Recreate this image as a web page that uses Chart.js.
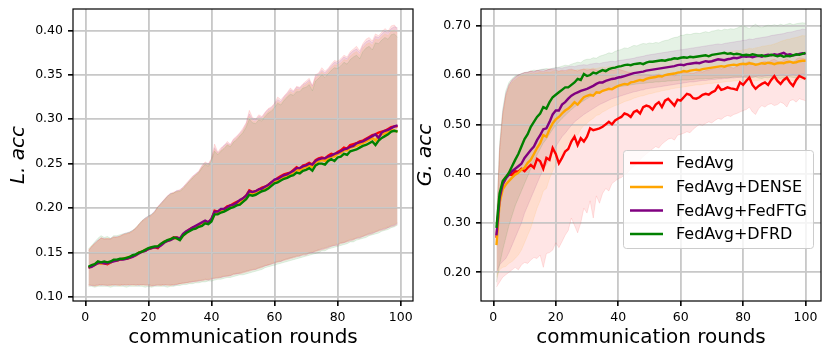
<!DOCTYPE html>
<html><head><meta charset="utf-8">
<script src="https://cdn.jsdelivr.net/npm/chart.js@4/dist/chart.umd.min.js"></script>
<style>
html,body{margin:0;padding:0;background:#fff;}
#w{position:relative;width:831px;height:358px;overflow:hidden;background:#fff;}
.c{position:absolute;top:0;height:358px;}
</style></head><body>
<div id="w">
<div class="c" style="left:0;width:416px"><canvas id="cL"></canvas></div>
<div class="c" style="left:410px;width:421px"><canvas id="cR"></canvas></div>
</div>
<script>
const rounds = [1,2,3,4,5,6,7,8,9,10,11,12,13,14,15,16,17,18,19,20,21,22,23,24,25,26,27,28,29,30,
31,32,33,34,35,36,37,38,39,40,41,42,43,44,45,46,47,48,49,50,51,52,53,54,55,56,57,58,59,60,
61,62,63,64,65,66,67,68,69,70,71,72,73,74,75,76,77,78,79,80,81,82,83,84,85,86,87,88,89,90,
91,92,93,94,95,96,97,98,99,100];
const seriesNames = ['FedAvg','FedAvg+DENSE','FedAvg+FedFTG','FedAvg+DFRD'];
const xTicks = [0,20,40,60,80,100];
const yTicksL = [0.10,0.15,0.20,0.25,0.30,0.35,0.40];
const yTicksR = [0.20,0.30,0.40,0.50,0.60,0.70];
const xTitle = 'communication rounds';
const yTitleL = 'L. acc';
const yTitleR = 'G. acc';

// ---------- Left panel (L. acc), rounds 1..99 ----------
const lFedAvg = [0.133,0.135,0.136,0.139,0.138,0.138,0.137,0.139,0.141,0.141,
0.142,0.143,0.143,0.144,0.146,0.147,0.150,0.151,0.152,0.154,
0.155,0.156,0.155,0.159,0.162,0.163,0.165,0.167,0.167,0.165,
0.170,0.173,0.176,0.178,0.179,0.181,0.182,0.185,0.184,0.187,
0.197,0.196,0.198,0.199,0.202,0.203,0.205,0.207,0.208,0.211,
0.214,0.220,0.218,0.219,0.221,0.223,0.224,0.226,0.229,0.231,
0.234,0.236,0.238,0.239,0.240,0.243,0.246,0.244,0.248,0.249,
0.251,0.249,0.254,0.256,0.257,0.256,0.259,0.261,0.260,0.263,
0.265,0.268,0.267,0.271,0.272,0.273,0.275,0.276,0.278,0.280,
0.282,0.283,0.285,0.286,0.287,0.289,0.291,0.292,0.292];
const lDense = [0.133,0.135,0.137,0.138,0.138,0.139,0.138,0.139,0.141,0.141,
0.142,0.143,0.144,0.145,0.146,0.147,0.150,0.151,0.153,0.154,
0.156,0.156,0.157,0.159,0.162,0.163,0.165,0.166,0.166,0.165,
0.169,0.172,0.175,0.177,0.178,0.180,0.181,0.184,0.183,0.186,
0.194,0.194,0.196,0.197,0.200,0.201,0.203,0.205,0.206,0.209,
0.212,0.217,0.216,0.217,0.219,0.221,0.222,0.224,0.227,0.229,
0.231,0.233,0.235,0.236,0.238,0.240,0.243,0.242,0.245,0.246,
0.248,0.246,0.251,0.253,0.254,0.253,0.256,0.258,0.258,0.261,
0.262,0.265,0.265,0.268,0.269,0.270,0.272,0.273,0.275,0.277,
0.279,0.276,0.281,0.283,0.284,0.286,0.288,0.287,0.286];
const lFedFTG = [0.133,0.134,0.136,0.138,0.139,0.138,0.138,0.139,0.140,0.141,
0.142,0.142,0.143,0.144,0.145,0.147,0.149,0.151,0.152,0.154,
0.155,0.156,0.156,0.158,0.161,0.163,0.164,0.166,0.167,0.166,
0.171,0.174,0.176,0.178,0.180,0.182,0.184,0.186,0.184,0.188,
0.196,0.196,0.199,0.199,0.201,0.203,0.204,0.206,0.209,0.211,
0.214,0.219,0.218,0.219,0.221,0.222,0.224,0.226,0.229,0.232,
0.233,0.235,0.237,0.238,0.240,0.242,0.245,0.245,0.247,0.248,
0.250,0.249,0.253,0.255,0.256,0.256,0.258,0.259,0.261,0.262,
0.264,0.266,0.267,0.269,0.270,0.273,0.274,0.275,0.277,0.279,
0.281,0.283,0.279,0.285,0.287,0.288,0.290,0.292,0.293];
const lDFRD = [0.134,0.136,0.137,0.140,0.139,0.140,0.139,0.140,0.142,0.142,
0.143,0.143,0.144,0.145,0.147,0.148,0.150,0.151,0.153,0.155,
0.156,0.157,0.157,0.160,0.162,0.164,0.165,0.167,0.166,0.164,
0.169,0.172,0.174,0.176,0.177,0.179,0.180,0.183,0.182,0.185,
0.193,0.193,0.195,0.196,0.198,0.200,0.201,0.203,0.204,0.207,
0.210,0.215,0.214,0.215,0.217,0.219,0.220,0.222,0.225,0.228,
0.229,0.231,0.233,0.234,0.236,0.237,0.240,0.239,0.242,0.243,
0.245,0.242,0.248,0.250,0.250,0.249,0.253,0.255,0.253,0.257,
0.258,0.261,0.260,0.264,0.265,0.266,0.268,0.270,0.271,0.273,
0.275,0.271,0.276,0.279,0.281,0.283,0.286,0.287,0.286];

const lFedAvgHi = [0.153,0.157,0.160,0.163,0.167,0.165,0.166,0.165,0.168,0.167,
0.169,0.170,0.171,0.172,0.174,0.178,0.182,0.186,0.188,0.190,
0.192,0.196,0.202,0.205,0.210,0.214,0.216,0.218,0.219,0.221,
0.223,0.228,0.232,0.236,0.238,0.242,0.248,0.252,0.250,0.256,
0.272,0.263,0.268,0.270,0.275,0.272,0.278,0.281,0.285,0.290,
0.296,0.310,0.302,0.300,0.305,0.303,0.308,0.312,0.314,0.318,
0.325,0.322,0.326,0.330,0.335,0.332,0.337,0.336,0.340,0.343,
0.346,0.338,0.350,0.352,0.358,0.354,0.357,0.362,0.366,0.365,
0.368,0.372,0.370,0.376,0.379,0.382,0.377,0.385,0.390,0.392,
0.388,0.396,0.394,0.398,0.402,0.399,0.405,0.406,0.401];
const lFedAvgLo = [0.113,0.113,0.112,0.113,0.114,0.113,0.113,0.113,0.114,0.113,
0.113,0.114,0.113,0.114,0.114,0.113,0.114,0.114,0.113,0.113,
0.112,0.113,0.113,0.113,0.114,0.113,0.113,0.114,0.114,0.115,
0.115,0.116,0.116,0.117,0.117,0.118,0.118,0.119,0.119,0.120,
0.121,0.121,0.122,0.123,0.123,0.124,0.125,0.126,0.126,0.127,
0.128,0.129,0.130,0.131,0.132,0.133,0.135,0.136,0.137,0.138,
0.139,0.140,0.141,0.142,0.143,0.144,0.145,0.146,0.147,0.147,
0.149,0.150,0.151,0.152,0.153,0.154,0.155,0.157,0.158,0.158,
0.160,0.161,0.162,0.163,0.164,0.166,0.166,0.168,0.169,0.170,
0.171,0.173,0.174,0.175,0.176,0.178,0.179,0.180,0.182];
const lDenseHi = [0.152,0.157,0.160,0.163,0.166,0.165,0.166,0.165,0.167,0.167,
0.168,0.170,0.171,0.172,0.174,0.177,0.181,0.185,0.187,0.189,
0.192,0.195,0.200,0.204,0.208,0.212,0.215,0.217,0.218,0.219,
0.222,0.226,0.230,0.234,0.237,0.240,0.246,0.250,0.248,0.254,
0.266,0.261,0.265,0.268,0.272,0.270,0.275,0.279,0.282,0.287,
0.293,0.303,0.298,0.297,0.301,0.300,0.305,0.309,0.311,0.315,
0.320,0.318,0.323,0.327,0.331,0.329,0.334,0.333,0.337,0.339,
0.342,0.335,0.346,0.349,0.353,0.350,0.354,0.358,0.361,0.361,
0.363,0.367,0.366,0.371,0.374,0.376,0.372,0.380,0.384,0.386,
0.383,0.390,0.389,0.393,0.396,0.394,0.399,0.400,0.397];
const lDenseLo = [0.114,0.114,0.113,0.113,0.114,0.114,0.114,0.113,0.114,0.114,
0.113,0.114,0.114,0.114,0.113,0.114,0.114,0.113,0.114,0.114,
0.113,0.114,0.114,0.113,0.114,0.114,0.113,0.114,0.115,0.115,
0.116,0.116,0.117,0.118,0.118,0.119,0.119,0.120,0.120,0.121,
0.122,0.122,0.123,0.124,0.124,0.125,0.126,0.127,0.127,0.128,
0.129,0.130,0.131,0.132,0.133,0.134,0.136,0.136,0.138,0.139,
0.140,0.141,0.142,0.143,0.144,0.145,0.146,0.147,0.148,0.149,
0.150,0.151,0.152,0.153,0.155,0.155,0.157,0.158,0.159,0.160,
0.161,0.162,0.163,0.165,0.165,0.167,0.168,0.169,0.170,0.172,
0.173,0.174,0.175,0.177,0.178,0.179,0.181,0.182,0.184];
const lFedFTGHi = [0.152,0.156,0.161,0.164,0.166,0.166,0.165,0.166,0.167,0.168,
0.168,0.171,0.172,0.173,0.175,0.177,0.181,0.185,0.189,0.191,
0.193,0.197,0.201,0.206,0.209,0.213,0.217,0.217,0.220,0.220,
0.224,0.227,0.231,0.235,0.239,0.241,0.247,0.251,0.249,0.255,
0.268,0.262,0.266,0.271,0.273,0.271,0.277,0.280,0.284,0.288,
0.295,0.306,0.300,0.299,0.303,0.302,0.307,0.311,0.313,0.317,
0.322,0.320,0.325,0.329,0.333,0.331,0.336,0.335,0.339,0.341,
0.344,0.337,0.348,0.351,0.355,0.352,0.356,0.360,0.364,0.363,
0.366,0.370,0.368,0.374,0.377,0.379,0.375,0.383,0.387,0.389,
0.386,0.393,0.392,0.396,0.399,0.397,0.402,0.404,0.403];
const lFedFTGLo = [0.114,0.113,0.113,0.114,0.113,0.114,0.113,0.114,0.113,0.114,
0.114,0.113,0.114,0.113,0.114,0.114,0.113,0.114,0.114,0.114,
0.113,0.113,0.114,0.114,0.113,0.114,0.114,0.113,0.114,0.115,
0.116,0.116,0.117,0.117,0.118,0.118,0.119,0.120,0.119,0.121,
0.121,0.122,0.122,0.123,0.124,0.124,0.126,0.126,0.127,0.128,
0.129,0.130,0.131,0.131,0.133,0.134,0.135,0.136,0.137,0.139,
0.140,0.140,0.142,0.143,0.144,0.145,0.146,0.146,0.148,0.148,
0.150,0.150,0.152,0.153,0.154,0.155,0.156,0.157,0.158,0.159,
0.161,0.161,0.163,0.164,0.165,0.166,0.167,0.168,0.170,0.171,
0.172,0.173,0.175,0.176,0.177,0.178,0.180,0.181,0.183];
const lDFRDHi = [0.154,0.158,0.162,0.166,0.169,0.167,0.168,0.166,0.169,0.169,
0.170,0.171,0.172,0.173,0.175,0.178,0.182,0.186,0.189,0.191,
0.193,0.196,0.201,0.205,0.209,0.213,0.216,0.217,0.219,0.219,
0.222,0.226,0.230,0.234,0.237,0.240,0.245,0.249,0.247,0.253,
0.264,0.260,0.264,0.267,0.271,0.269,0.274,0.277,0.281,0.285,
0.291,0.300,0.296,0.295,0.299,0.298,0.303,0.307,0.309,0.313,
0.318,0.316,0.321,0.325,0.328,0.327,0.331,0.331,0.335,0.336,
0.339,0.332,0.343,0.346,0.350,0.347,0.351,0.355,0.358,0.357,
0.360,0.364,0.362,0.367,0.370,0.372,0.368,0.376,0.380,0.382,
0.378,0.386,0.385,0.389,0.392,0.390,0.395,0.396,0.392];
const lDFRDLo = [0.112,0.112,0.111,0.112,0.112,0.112,0.112,0.111,0.112,0.112,
0.112,0.112,0.111,0.112,0.112,0.112,0.112,0.112,0.111,0.112,
0.111,0.112,0.112,0.112,0.112,0.111,0.112,0.112,0.113,0.113,
0.114,0.114,0.115,0.115,0.116,0.116,0.117,0.117,0.118,0.118,
0.119,0.120,0.120,0.121,0.122,0.122,0.123,0.124,0.125,0.125,
0.126,0.127,0.128,0.129,0.130,0.131,0.133,0.134,0.135,0.136,
0.137,0.138,0.139,0.140,0.141,0.142,0.143,0.144,0.145,0.146,
0.147,0.148,0.149,0.150,0.152,0.152,0.154,0.155,0.156,0.157,
0.158,0.159,0.160,0.162,0.162,0.164,0.165,0.166,0.167,0.169,
0.170,0.171,0.172,0.174,0.175,0.176,0.178,0.179,0.181];

// ---------- Right panel (G. acc), rounds 1..100 ----------
const gFedAvg = [0.270,0.350,0.380,0.392,0.400,0.398,0.405,0.404,0.410,0.405,
0.412,0.418,0.412,0.430,0.425,0.410,0.432,0.428,0.452,0.440,
0.421,0.432,0.445,0.450,0.465,0.475,0.458,0.472,0.465,0.475,
0.492,0.488,0.490,0.492,0.495,0.500,0.505,0.500,0.508,0.512,
0.515,0.522,0.520,0.515,0.525,0.528,0.522,0.535,0.538,0.536,
0.530,0.540,0.545,0.535,0.548,0.552,0.545,0.538,0.550,0.548,
0.555,0.562,0.560,0.553,0.552,0.555,0.560,0.562,0.560,0.565,
0.568,0.578,0.570,0.572,0.575,0.573,0.572,0.570,0.585,0.580,
0.588,0.595,0.580,0.572,0.578,0.582,0.585,0.580,0.590,0.598,
0.588,0.582,0.590,0.595,0.585,0.578,0.590,0.598,0.595,0.592];
const gDense = [0.255,0.340,0.368,0.378,0.385,0.392,0.398,0.402,0.408,0.412,
0.422,0.428,0.440,0.452,0.462,0.478,0.475,0.490,0.502,0.510,
0.515,0.522,0.528,0.532,0.538,0.545,0.540,0.548,0.555,0.558,
0.560,0.558,0.565,0.564,0.568,0.570,0.572,0.571,0.575,0.578,
0.580,0.582,0.581,0.585,0.586,0.588,0.590,0.589,0.592,0.594,
0.595,0.596,0.598,0.597,0.600,0.601,0.602,0.603,0.605,0.606,
0.608,0.607,0.609,0.610,0.611,0.610,0.612,0.613,0.614,0.615,
0.616,0.617,0.618,0.617,0.619,0.620,0.621,0.620,0.622,0.623,
0.622,0.624,0.623,0.621,0.622,0.624,0.623,0.625,0.624,0.622,
0.624,0.625,0.624,0.626,0.627,0.625,0.626,0.628,0.629,0.629];
const gFedFTG = [0.275,0.350,0.378,0.390,0.398,0.405,0.410,0.415,0.420,0.432,
0.440,0.448,0.455,0.468,0.478,0.490,0.492,0.505,0.520,0.528,
0.528,0.540,0.545,0.552,0.558,0.562,0.565,0.568,0.570,0.572,
0.575,0.578,0.582,0.585,0.585,0.588,0.590,0.592,0.593,0.595,
0.596,0.598,0.600,0.602,0.604,0.605,0.606,0.607,0.609,0.610,
0.611,0.612,0.613,0.614,0.615,0.616,0.617,0.618,0.620,0.621,
0.620,0.622,0.623,0.624,0.625,0.624,0.626,0.628,0.627,0.628,
0.630,0.632,0.631,0.630,0.632,0.633,0.635,0.634,0.636,0.638,
0.637,0.638,0.636,0.638,0.639,0.637,0.640,0.641,0.640,0.642,
0.641,0.643,0.645,0.641,0.642,0.640,0.641,0.643,0.644,0.643];
const gDFRD = [0.290,0.360,0.385,0.393,0.402,0.415,0.428,0.440,0.455,0.470,
0.480,0.495,0.505,0.515,0.522,0.535,0.532,0.545,0.555,0.560,
0.565,0.570,0.575,0.575,0.580,0.585,0.592,0.590,0.602,0.598,
0.600,0.605,0.603,0.607,0.610,0.608,0.612,0.614,0.615,0.617,
0.618,0.620,0.621,0.620,0.622,0.623,0.624,0.622,0.625,0.627,
0.627,0.628,0.629,0.630,0.629,0.631,0.632,0.634,0.633,0.635,
0.636,0.635,0.637,0.636,0.637,0.638,0.639,0.640,0.638,0.641,
0.642,0.643,0.644,0.645,0.643,0.644,0.642,0.643,0.642,0.640,
0.641,0.640,0.642,0.641,0.639,0.640,0.638,0.639,0.641,0.640,
0.638,0.640,0.637,0.639,0.638,0.640,0.642,0.641,0.643,0.645];

const gFedAvgHi = [0.290,0.450,0.520,0.560,0.580,0.590,0.595,0.600,0.602,0.605,
0.605,0.608,0.606,0.610,0.608,0.607,0.610,0.612,0.611,0.610,
0.608,0.610,0.609,0.611,0.612,0.610,0.608,0.611,0.612,0.610,
0.611,0.612,0.610,0.608,0.611,0.612,0.610,0.609,0.611,0.612,
0.610,0.608,0.606,0.605,0.604,0.603,0.600,0.602,0.601,0.600,
0.598,0.600,0.602,0.599,0.600,0.603,0.601,0.598,0.602,0.604,
0.605,0.607,0.604,0.603,0.606,0.608,0.606,0.609,0.610,0.612,
0.614,0.616,0.612,0.615,0.618,0.616,0.614,0.618,0.620,0.622,
0.625,0.628,0.622,0.620,0.624,0.626,0.628,0.625,0.630,0.632,
0.628,0.626,0.630,0.633,0.628,0.625,0.632,0.635,0.634,0.632];
const gFedAvgLo = [0.170,0.180,0.190,0.195,0.200,0.205,0.210,0.205,0.215,0.220,
0.218,0.225,0.230,0.228,0.235,0.210,0.238,0.240,0.245,0.260,
0.250,0.262,0.275,0.285,0.310,0.295,0.280,0.300,0.330,0.320,
0.345,0.310,0.355,0.340,0.360,0.370,0.365,0.380,0.385,0.390,
0.392,0.398,0.402,0.410,0.415,0.420,0.428,0.435,0.440,0.445,
0.450,0.455,0.452,0.460,0.465,0.470,0.472,0.468,0.478,0.480,
0.482,0.485,0.483,0.490,0.495,0.500,0.498,0.502,0.505,0.503,
0.508,0.512,0.510,0.515,0.518,0.516,0.520,0.522,0.525,0.528,
0.530,0.535,0.525,0.520,0.532,0.538,0.535,0.540,0.542,0.538,
0.540,0.545,0.542,0.535,0.548,0.550,0.545,0.552,0.550,0.548];
const gDenseHi = [0.275,0.440,0.515,0.555,0.575,0.585,0.590,0.595,0.598,0.600,
0.601,0.603,0.602,0.604,0.605,0.604,0.606,0.605,0.607,0.606,
0.607,0.608,0.606,0.609,0.610,0.609,0.611,0.610,0.612,0.613,
0.612,0.614,0.613,0.615,0.616,0.615,0.617,0.618,0.617,0.619,
0.620,0.621,0.620,0.622,0.623,0.624,0.623,0.625,0.626,0.627,
0.628,0.629,0.628,0.630,0.631,0.632,0.631,0.633,0.634,0.635,
0.636,0.635,0.637,0.638,0.639,0.638,0.640,0.641,0.642,0.641,
0.643,0.644,0.645,0.644,0.646,0.647,0.648,0.650,0.649,0.651,
0.652,0.654,0.653,0.655,0.656,0.658,0.659,0.660,0.661,0.663,
0.665,0.668,0.670,0.672,0.673,0.675,0.676,0.678,0.680,0.679];
const gDenseLo = [0.190,0.205,0.210,0.212,0.218,0.222,0.228,0.235,0.245,0.260,
0.275,0.290,0.310,0.330,0.345,0.365,0.370,0.390,0.405,0.420,
0.430,0.440,0.452,0.462,0.470,0.480,0.478,0.490,0.498,0.502,
0.508,0.512,0.518,0.520,0.525,0.528,0.532,0.535,0.538,0.540,
0.543,0.546,0.548,0.550,0.553,0.555,0.557,0.558,0.560,0.562,
0.563,0.565,0.566,0.568,0.569,0.570,0.572,0.573,0.574,0.575,
0.576,0.577,0.578,0.579,0.580,0.580,0.581,0.582,0.583,0.583,
0.584,0.585,0.585,0.586,0.587,0.587,0.588,0.588,0.589,0.589,
0.590,0.590,0.589,0.588,0.589,0.590,0.589,0.590,0.591,0.590,
0.589,0.590,0.588,0.589,0.590,0.588,0.589,0.590,0.591,0.590];
const gFedFTGHi = [0.290,0.450,0.525,0.562,0.580,0.590,0.596,0.600,0.603,0.605,
0.606,0.608,0.607,0.609,0.610,0.611,0.610,0.612,0.613,0.614,
0.615,0.614,0.616,0.617,0.618,0.617,0.619,0.620,0.621,0.620,
0.622,0.623,0.624,0.623,0.625,0.626,0.627,0.628,0.627,0.629,
0.630,0.631,0.632,0.633,0.634,0.636,0.637,0.638,0.640,0.641,
0.642,0.643,0.644,0.645,0.646,0.647,0.648,0.649,0.650,0.651,
0.652,0.653,0.654,0.655,0.656,0.657,0.658,0.659,0.660,0.661,
0.662,0.663,0.662,0.664,0.665,0.666,0.667,0.668,0.669,0.670,
0.671,0.673,0.672,0.674,0.675,0.676,0.677,0.678,0.680,0.681,
0.682,0.683,0.684,0.686,0.687,0.688,0.690,0.691,0.693,0.692];
const gFedFTGLo = [0.200,0.215,0.222,0.228,0.240,0.255,0.270,0.285,0.300,0.320,
0.335,0.350,0.365,0.380,0.395,0.410,0.418,0.430,0.445,0.455,
0.465,0.475,0.482,0.490,0.498,0.505,0.510,0.515,0.520,0.524,
0.528,0.532,0.536,0.540,0.543,0.546,0.549,0.552,0.554,0.556,
0.558,0.560,0.562,0.564,0.566,0.567,0.569,0.570,0.572,0.573,
0.574,0.575,0.576,0.577,0.578,0.579,0.580,0.581,0.582,0.583,
0.584,0.585,0.586,0.586,0.587,0.588,0.589,0.589,0.590,0.591,
0.591,0.592,0.592,0.593,0.593,0.594,0.594,0.595,0.595,0.596,
0.596,0.597,0.596,0.597,0.598,0.597,0.598,0.599,0.598,0.599,
0.599,0.600,0.600,0.599,0.600,0.601,0.600,0.601,0.602,0.601];
const gDFRDHi = [0.300,0.460,0.530,0.568,0.585,0.593,0.598,0.600,0.603,0.605,
0.606,0.608,0.610,0.609,0.611,0.612,0.613,0.612,0.614,0.615,
0.616,0.618,0.620,0.619,0.622,0.624,0.626,0.625,0.630,0.632,
0.632,0.635,0.634,0.638,0.640,0.642,0.645,0.644,0.648,0.650,
0.652,0.655,0.654,0.657,0.660,0.659,0.662,0.664,0.663,0.665,
0.664,0.666,0.665,0.668,0.670,0.671,0.674,0.676,0.677,0.680,
0.681,0.683,0.682,0.684,0.685,0.684,0.686,0.688,0.686,0.689,
0.690,0.692,0.690,0.693,0.692,0.694,0.693,0.695,0.698,0.700,
0.697,0.694,0.699,0.703,0.698,0.696,0.699,0.701,0.700,0.702,
0.700,0.703,0.701,0.703,0.705,0.702,0.704,0.705,0.706,0.705];
const gDFRDLo = [0.180,0.215,0.245,0.270,0.295,0.315,0.335,0.350,0.365,0.380,
0.395,0.410,0.425,0.438,0.450,0.462,0.470,0.480,0.490,0.498,
0.505,0.512,0.518,0.524,0.530,0.535,0.540,0.544,0.548,0.552,
0.556,0.559,0.562,0.565,0.567,0.569,0.571,0.573,0.575,0.576,
0.577,0.578,0.579,0.580,0.581,0.582,0.583,0.583,0.584,0.585,
0.585,0.586,0.586,0.587,0.587,0.588,0.588,0.589,0.589,0.590,
0.590,0.590,0.591,0.591,0.592,0.592,0.592,0.593,0.593,0.593,
0.594,0.594,0.594,0.595,0.595,0.595,0.596,0.596,0.596,0.596,
0.595,0.594,0.595,0.596,0.594,0.593,0.595,0.594,0.596,0.595,
0.594,0.593,0.595,0.594,0.596,0.595,0.594,0.596,0.597,0.596];

// ---------- styling ----------
const COLORS = [[255,0,0],[255,165,0],[128,0,128],[0,128,0]];
const FONT = 'DejaVu Sans';
const rgba = (c,a) => `rgba(${c[0]},${c[1]},${c[2]},${a})`;
const pts = ys => ys.map((y,i) => ({x: rounds[i], y}));

function buildDatasets(means, his, los){
  const ds = [];
  means.forEach((m,k) => ds.push({
    label: seriesNames[k], data: pts(m), borderColor: rgba(COLORS[k],1),
    borderWidth: 2.4, pointRadius: 0, fill: false, order: 4-k, tension: 0
  }));
  his.forEach((h,k) => {
    const idx = ds.length;
    ds.push({label: '_band', data: pts(h), borderColor: rgba(COLORS[k],0.1), borderWidth: 1,
      backgroundColor: rgba(COLORS[k],0.1), pointRadius: 0, fill: {target: idx+1}, order: 10});
    ds.push({label: '_band', data: pts(los[k]), borderColor: rgba(COLORS[k],0.1), borderWidth: 1,
      pointRadius: 0, fill: false, order: 10});
  });
  return ds;
}

const gridOver = {
  id: 'gridOver',
  beforeDatasetsDraw(chart){
    const ctx = chart.ctx; ctx.save();
    chart.scales.x.drawGrid(chart.chartArea);
    chart.scales.y.drawGrid(chart.chartArea);
    ctx.restore();
  },
  afterDatasetsDraw(chart){
    const {ctx, chartArea: a} = chart; ctx.save();
    ctx.strokeStyle = '#000'; ctx.lineWidth = 1.2;
    ctx.strokeRect(a.left, a.top, a.right - a.left, a.bottom - a.top);
    ctx.restore();
  }
};

function makeOptions(o){
  return {
    responsive: true, maintainAspectRatio: false, animation: false, devicePixelRatio: 1,
    layout: {padding: {left: 0, right: o.padRight, top: 9, bottom: 0}},
    plugins: {legend: {display: false}, tooltip: {enabled: false}, filler: {drawTime: 'beforeDatasetsDraw'}},
    scales: {
      x: {
        type: 'linear', min: o.xmin, max: o.xmax,
        afterBuildTicks: s => { s.ticks = xTicks.map(v => ({value: v})); },
        afterFit: s => { s.height = 57; s.paddingLeft = 0; s.paddingRight = 0; },
        grid: {color: '#c8c8c8', lineWidth: 1.6, tickColor: '#000', tickLength: 5, tickWidth: 1.2, drawTicks: true},
        border: {display: false},
        ticks: {color: '#000', font: {family: FONT, size: 12.5}, padding: 4, maxRotation: 0, autoSkip: false,
          callback: v => String(v)},
        title: {display: true, text: xTitle, color: '#000', font: {family: FONT, size: 20, lineHeight: 1.2},
          padding: {top: 0, bottom: 8}}
      },
      y: {
        type: 'linear', min: o.ymin, max: o.ymax,
        afterBuildTicks: s => { s.ticks = o.yTicks.map(v => ({value: v})); },
        afterFit: s => { s.width = o.yWidth; s.paddingTop = 0; s.paddingBottom = 0; },
        grid: {color: '#c8c8c8', lineWidth: 1.6, tickColor: '#000', tickLength: 5, tickWidth: 1.2, drawTicks: true},
        border: {display: false},
        ticks: {color: '#000', font: {family: FONT, size: 12.5}, padding: 5, autoSkip: false,
          callback: v => Number(v).toFixed(2)},
        title: {display: true, text: o.yTitle, color: '#000',
          font: {family: FONT, size: 20, style: 'italic', lineHeight: 1.2}, padding: {top: o.yTitlePad, bottom: 0}}
      }
    }
  };
}

const legendBox = {
  id: 'legendBox',
  afterDraw(chart){
    const ctx = chart.ctx; ctx.save();
    const x0 = 213, y0 = 150, w = 190, h = 98, r = 3;
    ctx.beginPath(); ctx.roundRect(x0+0.5, y0+0.5, w, h, r);
    ctx.fillStyle = 'rgba(255,255,255,0.8)'; ctx.fill();
    ctx.strokeStyle = '#cccccc'; ctx.lineWidth = 1; ctx.stroke();
    const ys = [163, 187, 210.5, 234];
    ctx.font = '16px "' + FONT + '"'; ctx.textBaseline = 'middle'; ctx.textAlign = 'left';
    seriesNames.forEach((n,k) => {
      ctx.strokeStyle = rgba(COLORS[k],1); ctx.lineWidth = 2.4;
      ctx.beginPath(); ctx.moveTo(220, ys[k]); ctx.lineTo(253, ys[k]); ctx.stroke();
      ctx.fillStyle = '#000'; ctx.fillText(n, 266, ys[k]+1);
    });
    ctx.restore();
  }
};

new Chart(document.getElementById('cL'), {
  type: 'line',
  data: {datasets: buildDatasets([lFedAvg,lDense,lFedFTG,lDFRD],
    [lFedAvgHi,lDenseHi,lFedFTGHi,lDFRDHi],[lFedAvgLo,lDenseLo,lFedFTGLo,lDFRDLo])},
  options: makeOptions({padRight: 3, xmin: -3.9, xmax: 103.9, ymin: 0.0955, ymax: 0.424,
    yTicks: yTicksL, yWidth: 73, yTitle: yTitleL, yTitlePad: 6.5}),
  plugins: [gridOver]
});
new Chart(document.getElementById('cR'), {
  type: 'line',
  data: {datasets: buildDatasets([gFedAvg,gDense,gFedFTG,gDFRD],
    [gFedAvgHi,gDenseHi,gFedFTGHi,gDFRDHi],[gFedAvgLo,gDenseLo,gFedFTGLo,gDFRDLo])},
  options: makeOptions({padRight: 10, xmin: -3.95, xmax: 104.95, ymin: 0.1418, ymax: 0.7339,
    yTicks: yTicksR, yWidth: 71, yTitle: yTitleR, yTitlePad: 3.5}),
  plugins: [gridOver, legendBox]
});
</script>
</body></html>
